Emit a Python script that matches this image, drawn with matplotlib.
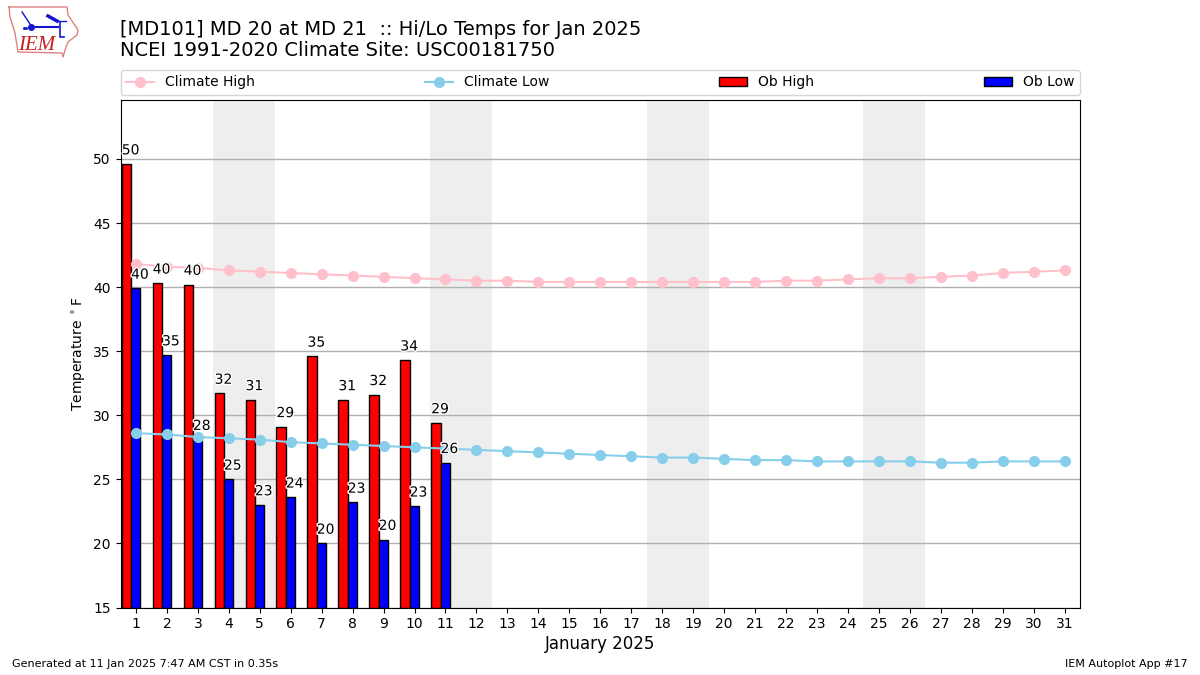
from matplotlib import pyplot as plt
from matplotlib import patheffects
import numpy as np

days = list(range(1, 32))
ob_days = list(range(1, 12))
ob_high = [49.6, 40.3, 40.2, 31.7, 31.2, 29.1, 34.6, 31.2, 31.6, 34.3, 29.4]
ob_low = [39.9, 34.7, 28.1, 25.0, 23.0, 23.6, 20.0, 23.2, 20.3, 22.9, 26.3]
climate_high = [41.8, 41.6, 41.5, 41.3, 41.2, 41.1, 41.0, 40.9, 40.8, 40.7, 40.6,
                40.5, 40.5, 40.4, 40.4, 40.4, 40.4, 40.4, 40.4, 40.4, 40.4, 40.5,
                40.5, 40.6, 40.7, 40.7, 40.8, 40.9, 41.1, 41.2, 41.3]
climate_low = [28.6, 28.5, 28.3, 28.2, 28.1, 27.9, 27.8, 27.7, 27.6, 27.5, 27.4,
               27.3, 27.2, 27.1, 27.0, 26.9, 26.8, 26.7, 26.7, 26.6, 26.5, 26.5,
               26.4, 26.4, 26.4, 26.4, 26.3, 26.3, 26.4, 26.4, 26.4]
weekends = [(3.5, 5.5), (10.5, 12.5), (17.5, 19.5), (24.5, 26.5)]

fig = plt.figure(figsize=(12, 6.75), dpi=100)
ax = fig.add_axes([120.5 / 1200, 1 - 607.5 / 675, 959.5 / 1200, 507.5 / 675])

for start, end in weekends:
    ax.axvspan(start, end, color='#eeeeee', lw=0, zorder=0)

x = np.array(ob_days)
ax.plot(days, climate_high, color='pink', marker='o', lw=1.5, ms=7, label='Climate High', zorder=3)
ax.plot(days, climate_low, color='skyblue', marker='o', lw=1.5, ms=7, label='Climate Low', zorder=3)
ax.bar(x - 0.31, np.array(ob_high) - 15, width=0.3, bottom=15, color='r', ec='k', label='Ob High', zorder=2)
ax.bar(x - 0.01, np.array(ob_low) - 15, width=0.3, bottom=15, color='b', ec='k', label='Ob Low', zorder=2)

halo = [patheffects.withStroke(linewidth=2, foreground='white')]
for day, val in zip(x - 0.31, ob_high):
    ax.annotate(f'{val:.0f}', (day, val), xytext=(3, 7), textcoords='offset points',
                ha='center', fontsize=10, path_effects=halo, zorder=4)
for day, val in zip(x - 0.01, ob_low):
    ax.annotate(f'{val:.0f}', (day, val), xytext=(3, 7), textcoords='offset points',
                ha='center', fontsize=10, path_effects=halo, zorder=4)

ax.set_axisbelow(True)
ax.grid(axis='y', color='#b0b0b0', lw=1)
ax.set_xlim(0.5, 31.5)
ax.set_ylim(15, 54.6)
ax.set_xticks(days)
ax.set_yticks(range(15, 55, 5))
ax.set_xlabel('January 2025', fontsize=12, labelpad=3)
ax.set_ylabel(r'Temperature $^\circ$F')

ax.legend(loc='lower left', bbox_to_anchor=(0, 1.0098, 1, 0.05), ncol=4, mode='expand',
          borderaxespad=0, fontsize=10)

fig.text(0.1, 0.957, '[MD101] MD 20 at MD 21  :: Hi/Lo Temps for Jan 2025', fontsize=14, va='center')
fig.text(0.1, 0.925, 'NCEI 1991-2020 Climate Site: USC00181750', fontsize=14, va='center')
fig.text(0.01, 0.012, 'Generated at 11 Jan 2025 7:47 AM CST in 0.35s', fontsize=8)
fig.text(0.99, 0.012, 'IEM Autoplot App #17', fontsize=8, ha='right')

# rough stand-in for the logo, pixel coordinates
logo = fig.add_axes([0, 1 - 60 / 675, 85 / 1200, 60 / 675])
logo.set_xlim(0, 85)
logo.set_ylim(60, 0)
logo.axis('off')
logo.plot([9, 67, 68, 78, 77, 68, 65, 63, 62, 18, 15, 10, 9], [7, 7, 15, 30, 35, 42, 50, 57, 53, 52, 33, 17, 7],
          color='#e08080', lw=1)
logo.plot([32, 58], [27, 27], color='#1515d0', lw=1.5)
logo.plot([22, 32], [12, 27], color='#1515d0', lw=1)
logo.plot([48, 57], [16, 21], color='#1515d0', lw=2.5)
logo.plot([57, 66], [21, 21], color='#1515d0', lw=1)
logo.plot([60, 60, 64], [22, 37, 37], color='#1515d0', lw=1.2)
logo.plot([31], [27], 'o', color='#1515d0', ms=4)
logo.plot([24, 26], [28, 28], 's', color='#1515d0', ms=1)
logo.text(37, 45, 'IEM', color='#c81e1e', family='Liberation Serif', style='italic',
          fontsize=15, ha='center', va='center')

plt.savefig('out.png')
